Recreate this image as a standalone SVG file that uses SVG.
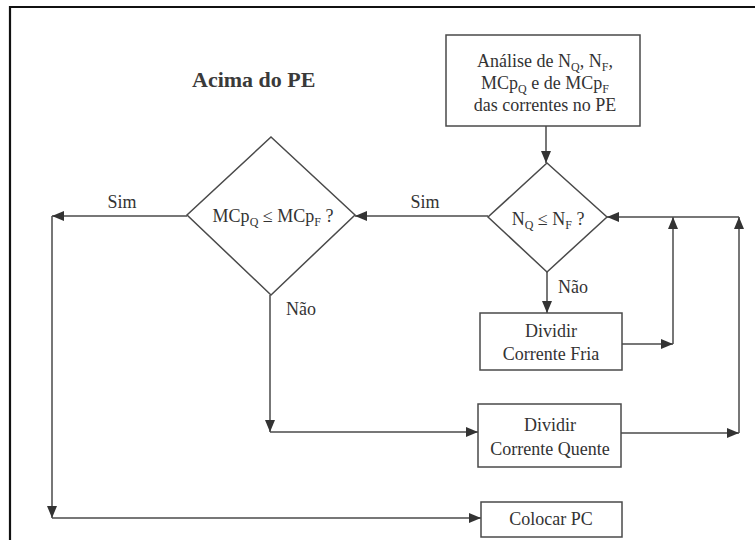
<svg xmlns="http://www.w3.org/2000/svg" width="755" height="540" viewBox="0 0 755 540">
  <style>
    .shape { fill: #fff; stroke: #4a4a4a; stroke-width: 1.5; }
    .wire { fill: none; stroke: #4a4a4a; stroke-width: 1.5; }
    text { font-family: "Liberation Serif", "Times New Roman", serif; }
    .t { font-size: 18px; fill: #333; text-anchor: middle; }
    .sub { font-size: 12px; }
    .title { font-size: 22px; font-weight: bold; fill: #3a3a3a; }
  </style>
  <defs>
    <marker id="arrow" viewBox="0 0 12 10" refX="12" refY="5" markerWidth="12" markerHeight="10" markerUnits="userSpaceOnUse" orient="auto">
      <path d="M0,0 L12,5 L0,10 z" fill="#333"/>
    </marker>
  </defs>

  <rect width="755" height="540" fill="#fff"/>
  <!-- outer frame -->
  <path d="M10,540 V7 H755" fill="none" stroke="#111" stroke-width="2.2"/>

  <text class="title" x="192" y="87">Acima do PE</text>

  <g id="connectors">
    <line class="wire" x1="546" y1="126" x2="546" y2="163" marker-end="url(#arrow)"/>
    <line class="wire" x1="488" y1="216" x2="355" y2="216" marker-end="url(#arrow)"/>
    <line class="wire" x1="187" y1="216" x2="52" y2="216" marker-end="url(#arrow)"/>
    <line class="wire" x1="52" y1="216" x2="52" y2="518" marker-end="url(#arrow)"/>
    <line class="wire" x1="52" y1="518" x2="481" y2="518" marker-end="url(#arrow)"/>
    <line class="wire" x1="547" y1="272" x2="547" y2="313" marker-end="url(#arrow)"/>
    <line class="wire" x1="622" y1="344" x2="673" y2="344" marker-end="url(#arrow)"/>
    <line class="wire" x1="673" y1="344" x2="673" y2="217" marker-end="url(#arrow)"/>
    <line class="wire" x1="270" y1="295" x2="270" y2="432" marker-end="url(#arrow)"/>
    <line class="wire" x1="270" y1="432" x2="478" y2="432" marker-end="url(#arrow)"/>
    <line class="wire" x1="621" y1="433" x2="739" y2="433" marker-end="url(#arrow)"/>
    <line class="wire" x1="739" y1="433" x2="739" y2="217" marker-end="url(#arrow)"/>
    <line class="wire" x1="739" y1="217" x2="607" y2="217" marker-end="url(#arrow)"/>
    <text class="t" x="425" y="208">Sim</text>
    <text class="t" x="122" y="208">Sim</text>
    <text class="t" x="573" y="293">Não</text>
    <text class="t" x="301" y="315">Não</text>
  </g>

  <g id="analise">
    <rect class="shape" x="446" y="35" width="194" height="91"/>
    <text class="t" x="545" y="67">Análise de N<tspan class="sub" dy="4">Q</tspan><tspan dy="-4">, N</tspan><tspan class="sub" dy="4">F</tspan><tspan dy="-4">,</tspan></text>
    <text class="t" x="545" y="89">MCp<tspan class="sub" dy="4">Q</tspan><tspan dy="-4"> e de MCp</tspan><tspan class="sub" dy="4">F</tspan></text>
    <text class="t" x="545" y="111">das correntes no PE</text>
  </g>

  <g id="teste-n">
    <polygon class="shape" points="547,163 607,217 547,272 488,217"/>
    <text class="t" x="548" y="225">N<tspan class="sub" dy="4">Q</tspan><tspan dy="-4"> ≤ N</tspan><tspan class="sub" dy="4">F</tspan><tspan dy="-4"> ?</tspan></text>
  </g>

  <g id="teste-mcp">
    <polygon class="shape" points="271,137 355,215 271,295 187,215"/>
    <text class="t" x="273" y="222">MCp<tspan class="sub" dy="4">Q</tspan><tspan dy="-4"> ≤ MCp</tspan><tspan class="sub" dy="4">F</tspan><tspan dy="-4"> ?</tspan></text>
  </g>

  <g id="dividir-fria">
    <rect class="shape" x="480" y="313" width="142" height="57"/>
    <text class="t" x="551" y="337">Dividir</text>
    <text class="t" x="551" y="360">Corrente Fria</text>
  </g>

  <g id="dividir-quente">
    <rect class="shape" x="478" y="404" width="143" height="63"/>
    <text class="t" x="550" y="431">Dividir</text>
    <text class="t" x="550" y="455">Corrente Quente</text>
  </g>

  <g id="colocar-pc">
    <rect class="shape" x="481" y="502" width="141" height="35"/>
    <text class="t" x="551" y="525">Colocar PC</text>
  </g>
</svg>
